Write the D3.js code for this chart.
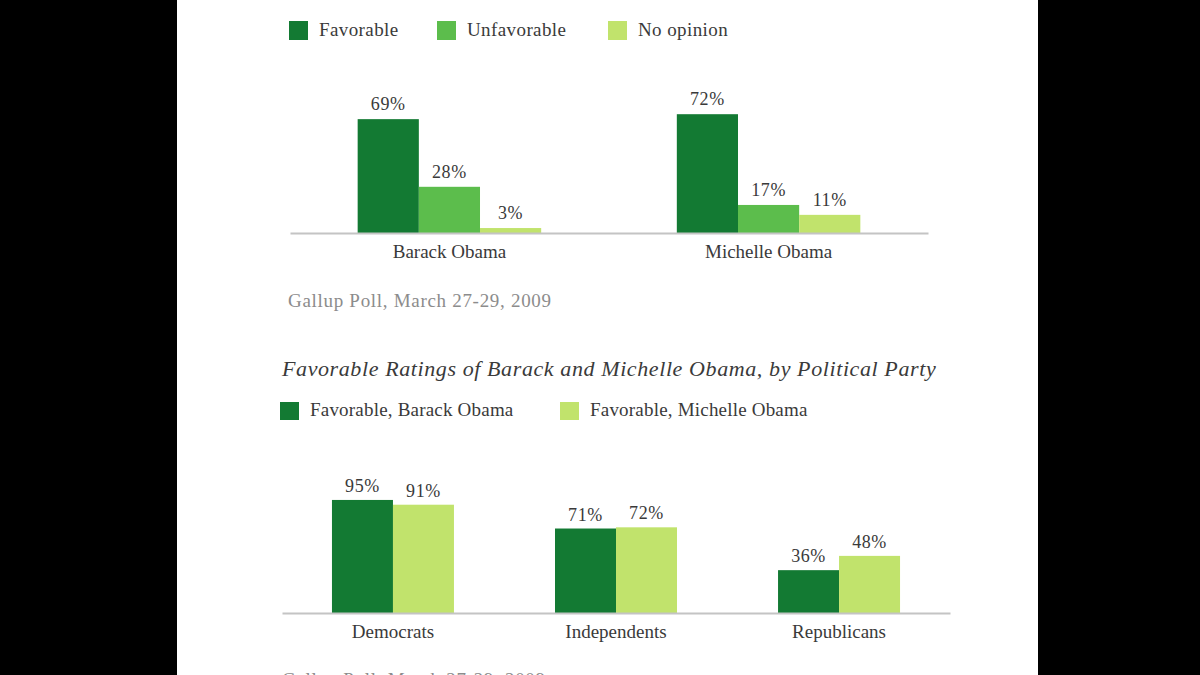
<!DOCTYPE html>
<html>
<head>
<meta charset="utf-8">
<script src="https://cdn.jsdelivr.net/npm/d3@7"></script>
<style>
  body { margin: 0; background: #000; }
  svg { display: block; }
  text { font-family: "Liberation Serif", "DejaVu Serif", serif; fill: #3a3a3a; }
</style>
</head>
<body>
<svg id="chart"></svg>
<script>
// Datos (Gallup, marzo 2009)
const topCategories = ["Barack Obama", "Michelle Obama"];
const topSeries = ["Favorable", "Unfavorable", "No opinion"];
const favorableTop = [69, 72];
const unfavorableTop = [28, 17];
const noOpinionTop = [3, 11];

const partyCategories = ["Democrats", "Independents", "Republicans"];
const partySeries = ["Favorable, Barack Obama", "Favorable, Michelle Obama"];
const barackByParty = [95, 71, 36];
const michelleByParty = [91, 72, 48];

const sourceText = "Gallup Poll, March 27-29, 2009";
const partyTitle = "Favorable Ratings of Barack and Michelle Obama, by Political Party";

const width = 1200;
const height = 675;

const topColors = d3.scaleOrdinal().domain(topSeries).range(["#137a33", "#5cbd4c", "#c1e36c"]);
const partyColors = d3.scaleOrdinal().domain(partySeries).range(["#137a33", "#c1e36c"]);

const svg = d3.select("#chart")
              .attr("width", width)
              .attr("height", height);

// panel blanco central
svg.append("rect")
   .attr("x", 177).attr("y", 0)
   .attr("width", 861).attr("height", height)
   .attr("fill", "#fff");

// ---------- leyenda superior ----------
const topLegendX = [289, 437, 608];
topSeries.forEach((s, i) => {
  const g = svg.append("g").attr("transform", `translate(${topLegendX[i]},21)`);
  g.append("rect").attr("width", 19).attr("height", 19).attr("fill", topColors(s));
  g.append("text").attr("x", 30).attr("y", 15).attr("font-size", 19)
   .attr("letter-spacing", 0.4).text(s);
});

// ---------- gráfico superior ----------
const topTable = topCategories.map((c, i) => ({
  category: c,
  values: [favorableTop[i], unfavorableTop[i], noOpinionTop[i]].map((v, j) => ({ series: topSeries[j], value: v }))
}));

const x0Top = d3.scaleBand()
                .domain(topCategories)
                .range([290, 928])
                .paddingInner(0.425)
                .paddingOuter(0.212);

const x1Top = d3.scaleBand()
                .domain(topSeries)
                .range([0, x0Top.bandwidth()]);

const yTop = d3.scaleLinear()
               .domain([0, 100])
               .range([233, 233 - 165]);

const topGroups = svg.selectAll(".top-group")
   .data(topTable)
   .enter()
   .append("g")
   .attr("class", "top-group")
   .attr("transform", d => `translate(${x0Top(d.category)},0)`);

topGroups.selectAll("rect")
   .data(d => d.values)
   .enter()
   .append("rect")
   .attr("x", d => x1Top(d.series))
   .attr("y", d => yTop(d.value))
   .attr("width", x1Top.bandwidth())
   .attr("height", d => yTop(0) - yTop(d.value))
   .attr("fill", d => topColors(d.series));

topGroups.selectAll(".val")
   .data(d => d.values)
   .enter()
   .append("text")
   .attr("class", "val")
   .attr("x", d => x1Top(d.series) + x1Top.bandwidth() / 2)
   .attr("y", d => yTop(d.value) - 9)
   .attr("text-anchor", "middle")
   .attr("font-size", 18)
   .attr("letter-spacing", 0.6)
   .text(d => d.value + "%");

const topAxis = svg.append("g")
   .attr("transform", `translate(0,${yTop(0)})`)
   .call(d3.axisBottom(x0Top).tickSize(0).tickPadding(12));
topAxis.select(".domain").attr("stroke", "#c4c4c4").attr("stroke-width", 2);
topAxis.selectAll("text")
   .attr("font-size", 19)
   .attr("font-family", "Liberation Serif, serif")
   .attr("fill", "#3a3a3a");

svg.append("text")
   .attr("x", 288).attr("y", 307)
   .attr("font-size", 19)
   .attr("letter-spacing", 0.7)
   .style("fill", "#8c8c8c")
   .text(sourceText);

// ---------- gráfico por partido ----------
svg.append("text")
   .attr("x", 282).attr("y", 376)
   .attr("font-size", 22)
   .attr("letter-spacing", 0.6)
   .attr("font-style", "italic")
   .text(partyTitle);

const partyLegendX = [280, 560];
partySeries.forEach((s, i) => {
  const g = svg.append("g").attr("transform", `translate(${partyLegendX[i]},402)`);
  g.append("rect").attr("width", 19).attr("height", 18).attr("fill", partyColors(s));
  g.append("text").attr("x", 30).attr("y", 14).attr("font-size", 19)
   .attr("letter-spacing", 0.2).text(s);
});

const partyTable = partyCategories.map((c, i) => ({
  category: c,
  values: [barackByParty[i], michelleByParty[i]].map((v, j) => ({ series: partySeries[j], value: v }))
}));

const x0Party = d3.scaleBand()
                  .domain(partyCategories)
                  .range([282, 950])
                  .paddingInner(0.453)
                  .paddingOuter(0.224);

const x1Party = d3.scaleBand()
                  .domain(partySeries)
                  .range([0, x0Party.bandwidth()]);

const yParty = d3.scaleLinear()
                 .domain([0, 100])
                 .range([613, 613 - 119]);

const partyGroups = svg.selectAll(".party-group")
   .data(partyTable)
   .enter()
   .append("g")
   .attr("class", "party-group")
   .attr("transform", d => `translate(${x0Party(d.category)},0)`);

partyGroups.selectAll("rect")
   .data(d => d.values)
   .enter()
   .append("rect")
   .attr("x", d => x1Party(d.series))
   .attr("y", d => yParty(d.value))
   .attr("width", x1Party.bandwidth())
   .attr("height", d => yParty(0) - yParty(d.value))
   .attr("fill", d => partyColors(d.series));

partyGroups.selectAll(".val")
   .data(d => d.values)
   .enter()
   .append("text")
   .attr("class", "val")
   .attr("x", d => x1Party(d.series) + x1Party.bandwidth() / 2)
   .attr("y", d => yParty(d.value) - 8)
   .attr("text-anchor", "middle")
   .attr("font-size", 18)
   .attr("letter-spacing", 0.6)
   .text(d => d.value + "%");

const partyAxis = svg.append("g")
   .attr("transform", `translate(0,${yParty(0)})`)
   .call(d3.axisBottom(x0Party).tickSize(0).tickPadding(12));
partyAxis.select(".domain").attr("stroke", "#c4c4c4").attr("stroke-width", 2);
partyAxis.selectAll("text")
   .attr("font-size", 19)
   .attr("font-family", "Liberation Serif, serif")
   .attr("fill", "#3a3a3a");

// fuente cortada en el borde inferior, como en la imagen original
svg.append("text")
   .attr("x", 282).attr("y", 686)
   .attr("font-size", 19)
   .attr("letter-spacing", 0.7)
   .style("fill", "#8c8c8c")
   .text(sourceText);
</script>
</body>
</html>
